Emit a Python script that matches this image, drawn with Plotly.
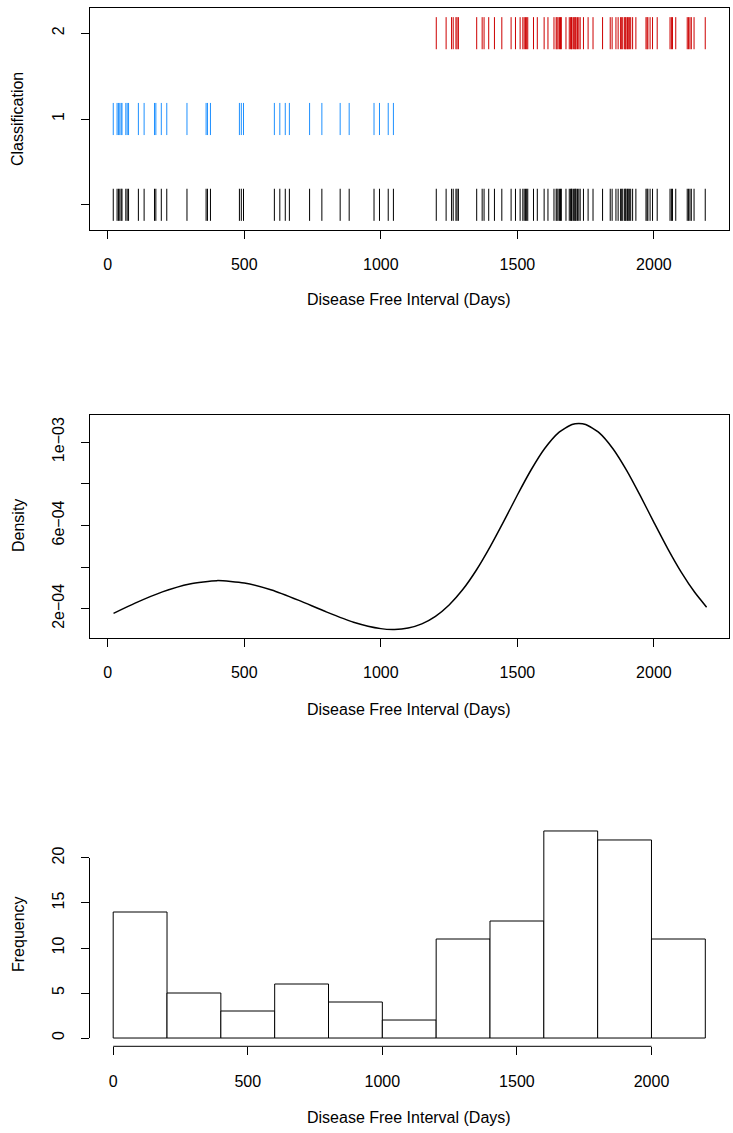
import plotly.graph_objects as go

# ---------------- data ----------------
class1_days = [20, 34, 39, 44, 49, 52, 66, 71, 76, 112, 133, 171, 176, 196,
               216, 290, 360, 365, 376,
               482, 489, 497,
               610, 630, 650, 665, 739, 784,
               851, 884, 975, 995,
               1027, 1046]
class2_days = [1203, 1239, 1259, 1265, 1275, 1279, 1284, 1351, 1371, 1378, 1395,
               1416, 1443, 1477, 1493, 1510, 1520, 1525, 1530, 1534, 1538, 1559, 1573, 1598,
               1612, 1634, 1642, 1645, 1649, 1654, 1658, 1661, 1678, 1690, 1695, 1698, 1700,
               1705, 1710, 1712, 1715, 1720, 1725, 1730, 1742, 1759, 1777,
               1812, 1840, 1847, 1861, 1869, 1878, 1882, 1886, 1893, 1895, 1898, 1903, 1906,
               1910, 1915, 1922, 1934, 1971, 1975, 1978, 1986, 1995,
               2012, 2059, 2064, 2068, 2080, 2122, 2127, 2132, 2137, 2147, 2188]
all_days = sorted(class1_days + class2_days)

density_x = [21, 100, 200, 300, 400, 500, 600, 700, 800, 900, 1000, 1050, 1100, 1150, 1200,
             1250, 1300, 1350, 1400, 1450, 1500, 1550, 1600, 1650, 1700, 1725, 1750, 1800,
             1850, 1900, 1950, 2000, 2050, 2100, 2150, 2193]
density_y = [1.78e-4, 2.27e-4, 2.81e-4, 3.19e-4, 3.35e-4, 3.24e-4, 2.90e-4, 2.40e-4, 1.85e-4,
             1.355e-4, 1.046e-4, 1.005e-4, 1.073e-4, 1.273e-4, 1.634e-4,
             2.18e-4, 2.92e-4, 3.86e-4, 4.97e-4, 6.19e-4, 7.46e-4, 8.66e-4, 9.69e-4, 1.0443e-3,
             1.0846e-3, 1.0897e-3, 1.0846e-3, 1.0443e-3,
             9.681e-4, 8.642e-4, 7.428e-4, 6.147e-4, 4.898e-4, 3.758e-4, 2.777e-4, 2.076e-4]

x_ticks = [0, 500, 1000, 1500, 2000]
class_ticks = [0, 1, 2]
class_ticktext = ["", "1", "2"]
dens_ticks = [2e-4, 4e-4, 6e-4, 8e-4, 1e-3]
dens_ticktext = ["2e\u221204", "", "6e\u221204", "", "1e\u221203"]
freq_ticks = [0, 5, 10, 15, 20]
xlab = "Disease Free Interval (Days)"

# ---------------- layout helpers ----------------
W, H = 733, 1133
FONT = "Liberation Sans, Arial, Helvetica, sans-serif"
FS = 16


def px_x(p):
    return p / W


def px_y(p):
    return 1 - p / H


def rug(xs, level, half=0.187):
    xx, yy = [], []
    for v in xs:
        xx += [v, v, None]
        yy += [level - half, level + half, None]
    return xx, yy


fig = go.Figure()

# panel 1: classification rug
for xs, lvl, col in [(all_days, 0, "black"), (class1_days, 1, "#1E90FF"), (class2_days, 2, "#CD0000")]:
    xx, yy = rug(xs, lvl)
    fig.add_trace(go.Scatter(x=xx, y=yy, mode="lines", line=dict(color=col, width=1),
                             xaxis="x", yaxis="y", showlegend=False, hoverinfo="skip"))

# panel 2: density
fig.add_trace(go.Scatter(x=density_x, y=density_y, mode="lines",
                         line=dict(color="black", width=1.5, shape="spline", smoothing=0.6),
                         xaxis="x2", yaxis="y2", showlegend=False))

# panel 3: histogram
fig.add_trace(go.Histogram(x=all_days, xbins=dict(start=0, end=2200, size=200),
                           marker=dict(color="white", line=dict(color="black", width=1)),
                           xaxis="x3", yaxis="y3", showlegend=False))

xdom = [px_x(89.5), px_x(729)]
tickfont = dict(family=FONT, size=FS, color="black")
common_x = dict(domain=xdom, ticks="outside", ticklen=8, tickwidth=1, tickcolor="black",
                showgrid=False, zeroline=False, tickfont=tickfont, tickvals=x_ticks,
                ticklabelstandoff=12)
common_y = dict(ticks="outside", ticklen=8, tickwidth=1, tickcolor="black",
                showgrid=False, zeroline=False, tickfont=tickfont, tickangle=-90,
                ticklabelstandoff=10)
box = dict(showline=True, linecolor="black", linewidth=1, mirror=True)

fig.update_layout(
    width=W, height=H, margin=dict(l=0, r=0, t=0, b=0),
    paper_bgcolor="white", plot_bgcolor="white", bargap=0,
    font=dict(family=FONT, size=FS, color="black"),
    xaxis=dict(**common_x, **box, range=[-67, 2275], anchor="y"),
    yaxis=dict(**common_y, **box, domain=[px_y(230.2), px_y(7.8)], range=[-0.296, 2.296],
               tickvals=class_ticks, ticktext=class_ticktext, anchor="x"),
    xaxis2=dict(**common_x, **box, range=[-67, 2275], anchor="y2"),
    yaxis2=dict(**common_y, **box, domain=[px_y(637.5), px_y(415)], range=[0.62e-4, 11.3e-4],
                tickvals=dens_ticks, ticktext=dens_ticktext, anchor="x2"),
    xaxis3=dict(**common_x, showline=False, range=[-88, 2288], anchor="y3"),
    yaxis3=dict(**common_y, showline=False, domain=[px_y(1046.3), px_y(822.7)], range=[-0.92, 23.92],
                tickvals=freq_ticks, anchor="x3"),
)

# R-style axis lines for the histogram (span first..last tick)
fig.add_shape(type="line", xref="x3", yref="y3 domain", x0=0, x1=2000, y0=0, y1=0,
              line=dict(color="black", width=1))
fig.add_shape(type="line", xref="x3 domain", yref="y3", x0=0, x1=0, y0=0, y1=20,
              line=dict(color="black", width=1))

# axis titles
titles = [
    (409, 300, xlab, 0), (18, 119, "Classification", -90),
    (409, 709, xlab, 0), (18, 526, "Density", -90),
    (409, 1117, xlab, 0), (18, 934, "Frequency", -90),
]
for x, y, t, ang in titles:
    fig.add_annotation(x=px_x(x), y=px_y(y), xref="paper", yref="paper", text=t,
                       showarrow=False, textangle=ang, font=dict(family=FONT, size=FS, color="black"),
                       xanchor="center", yanchor="middle")

fig.write_html("out.html", config={"displayModeBar": False, "staticPlot": True},
               post_script="document.body.style.margin='0';document.body.style.overflow='hidden';")
